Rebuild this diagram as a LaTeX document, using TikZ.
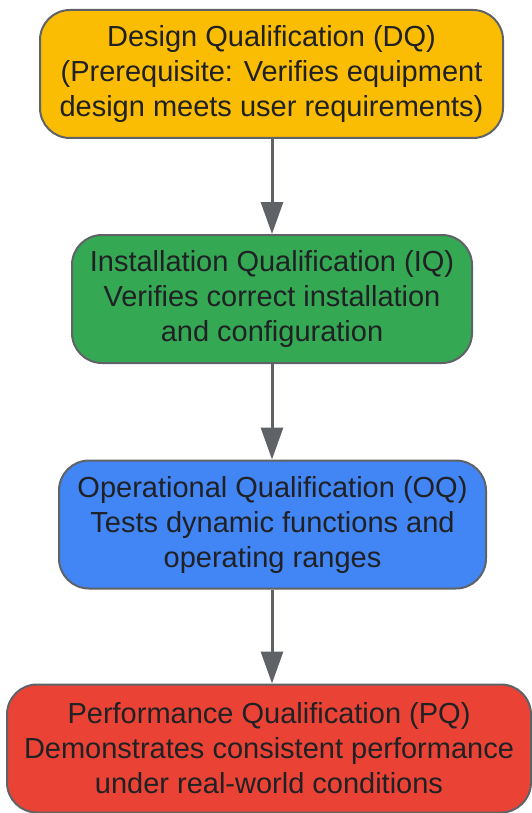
\documentclass[tikz,border=0pt]{standalone}
\usepackage{fontspec}
\setmainfont{Liberation Sans}
\usetikzlibrary{arrows.meta}
\definecolor{dqfill}{HTML}{FBBC04}
\definecolor{iqfill}{HTML}{34A853}
\definecolor{oqfill}{HTML}{4285F4}
\definecolor{pqfill}{HTML}{EA4335}
\definecolor{edgegray}{HTML}{5F6368}
\definecolor{inkgray}{HTML}{202124}
\tikzset{
  stagebox/.style={draw=edgegray, line width=2pt, rounded corners=30pt,
    minimum height=128pt, align=center, inner sep=0pt, text=inkgray,
    font=\fontsize{29pt}{35pt}\selectfont},
  flowarrow/.style={draw=edgegray, line width=3pt,
    -{Triangle[length=32pt,width=22pt]}}
}
\begin{document}
\begin{tikzpicture}[x=1pt,y=-1pt]
                \useasboundingbox (0,0) rectangle (532,813);

                % Design qualification
                \node[stagebox, fill=dqfill, minimum width=463pt] (dq) at (271.5,74)
                  {Design Qualification (DQ)\\(Prerequisite: Verifies equipment\\design meets user requirements)};%

                % Installation qualification
                \node[stagebox, fill=iqfill, minimum width=400pt] (iq) at (272,299)
                  {Installation Qualification (IQ)\\Verifies correct installation\\and configuration};%

                % Operational qualification
                \node[stagebox, fill=oqfill, minimum width=427pt] (oq) at (272.5,524.5)
                  {Operational Qualification (OQ)\\Tests dynamic functions and\\operating ranges};%

                % Performance qualification
                \node[stagebox, fill=pqfill, minimum width=524pt] (pq) at (269,748.5)
                  {Performance Qualification (PQ)\\Demonstrates consistent performance\\under real-world conditions};%

                % Arrows between stages
                \draw[flowarrow] (dq.south -| 272,0) -- (iq.north -| 272,0);%
                \draw[flowarrow] (iq.south -| 272,0) -- (oq.north -| 272,0);%
                \draw[flowarrow] (oq.south -| 272,0) -- (pq.north -| 272,0);%
\end{tikzpicture}
\end{document}
